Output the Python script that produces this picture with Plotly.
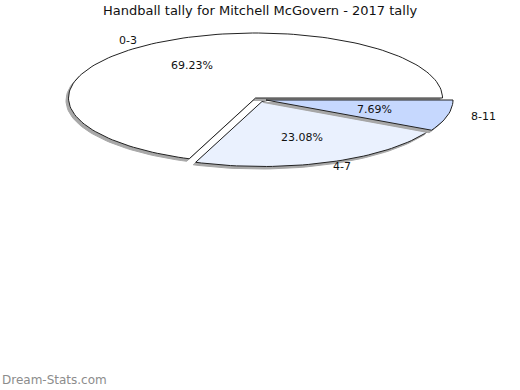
import numpy as np
import plotly.graph_objects as go

# ---- data ----
title = "Handball tally for Mitchell McGovern - 2017 tally"
categories = ["0-3", "4-7", "8-11"]
counts = [9, 3, 1]

# ---- style / layout constants ----
fills = ["#FFFFFF", "#EAF1FE", "#C6D8FE"]
explode_px = [(0.0, 0.0), (6.5, 3.5), (10.5, 2.0)]
CX, CY = 255.5, 98.0
RX, RY = 187.0, 65.0
SHADOW = (-2.5, 2.5)

W, H = 520, 390
fig = go.Figure()

total = float(sum(counts))
start = 0.0
for i, (cat, v) in enumerate(zip(categories, counts)):
    frac = v / total
    a0, a1 = start, start + frac * 2 * np.pi
    start = a1
    dx, dy = explode_px[i]
    cx, cy = CX + dx, CY + dy
    t = np.linspace(a0, a1, max(8, int(200 * frac)))
    xs = np.concatenate([[cx], cx + RX * np.cos(t), [cx]])
    ys = np.concatenate([[cy], cy - RY * np.sin(t), [cy]])
    # shadow
    fig.add_trace(go.Scatter(x=xs + SHADOW[0], y=ys + SHADOW[1], mode="lines",
                             fill="toself", fillcolor="#A8A8A8",
                             line=dict(color="#A8A8A8", width=1),
                             hoverinfo="skip", showlegend=False))
    fig.add_trace(go.Scatter(x=xs, y=ys, mode="lines", fill="toself",
                             fillcolor=fills[i],
                             line=dict(color="#222222", width=1),
                             name=cat, hoverinfo="name", showlegend=False))
    am = (a0 + a1) / 2
    fig.add_annotation(x=cx + 0.6 * RX * np.cos(am), y=cy - 0.6 * RY * np.sin(am),
                       text=f"{frac*100:.2f}%", showarrow=False,
                       font=dict(family="DejaVu Sans", size=11, color="#111111"))
    fig.add_annotation(x=cx + 1.2 * RX * np.cos(am), y=cy - 1.07 * RY * np.sin(am),
                       text=cat, showarrow=False,
                       font=dict(family="DejaVu Sans", size=11, color="#111111"))

fig.add_annotation(x=260, y=10, text=title, showarrow=False,
                   font=dict(family="DejaVu Sans", size=13, color="#111111"))
fig.add_annotation(x=0, y=380, xanchor="left", text="Dream-Stats.com",
                   showarrow=False,
                   font=dict(family="DejaVu Sans", size=12, color="#8C8C8C"))

fig.update_layout(
    width=W, height=H, margin=dict(l=0, r=0, t=0, b=0),
    paper_bgcolor="white", plot_bgcolor="white",
    xaxis=dict(range=[0, W], visible=False, fixedrange=True),
    yaxis=dict(range=[H, 0], visible=False, fixedrange=True),
)
fig.write_html(
    "out.html",
    config={"displayModeBar": False},
    post_script="document.body.style.margin='0';document.body.style.overflow='hidden';",
)
